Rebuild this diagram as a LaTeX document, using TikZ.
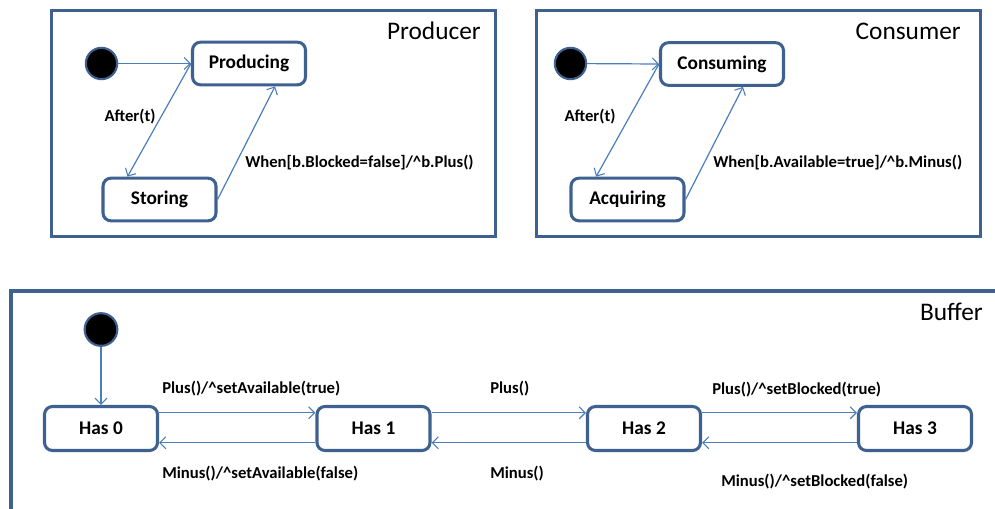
\documentclass[tikz,border=0pt]{standalone}
\usepackage{fontspec}
\setmainfont{Carlito}
\usetikzlibrary{arrows.meta}

\definecolor{framec}{HTML}{3F6190}
\definecolor{linkc}{HTML}{4A7EBB}

\tikzset{
  frame/.style={draw=framec, line width=2.4pt},
  state/.style={draw=framec, line width=2.3pt, rounded corners=6pt, fill=white,
    minimum width=84.75pt, minimum height=32pt, inner sep=0pt,
    font=\fontsize{14.5}{16}\selectfont\bfseries},
  initial/.style={circle, fill=black, draw=framec, line width=1.6pt,
    minimum size=23.5pt, inner sep=0pt},
  conn/.style={draw=linkc, line width=0.9pt,
    -{Straight Barb[length=4.5pt, width=9pt, line width=0.8pt]}},
  lbl/.style={inner sep=0pt, font=\fontsize{12.5}{14}\selectfont\bfseries},
  title/.style={inner sep=0pt, anchor=east, font=\fontsize{19}{22}\selectfont},
}

\begin{document}
\begin{tikzpicture}[x=0.75pt, y=-0.75pt]
  \useasboundingbox (0,0) rectangle (995,508);

  % ---------- Producer ----------
  \draw[frame] (51.5,10.5) rectangle (495.5,236.5);
  \node[title] (ptitle) at (481,31) {Producer};
  \node[initial] (pinit) at (101.5,63.5) {};
  \node[state] (prod) at (249,63.5) {Producing};
  \node[state] (stor) at (159.5,199.5) {Storing};
  \draw[conn] (pinit) -- (prod.west);
  \draw[conn] (prod.west) -- ([xshift=19.5pt]stor.north west);
  \draw[conn] (stor.east) -- ([xshift=-24pt]prod.south east);
  \node[lbl] (pafter) at (130,117) {After(t)};
  \node[lbl, anchor=west] (pwhen) at (245,163) {When[b.Blocked=false]/\textasciicircum b.Plus()};

  % ---------- Consumer ----------
  \draw[frame] (536.5,10.5) rectangle (980.5,236.5);
  \node[title] (ctitle) at (961,31) {Consumer};
  \node[initial] (cinit) at (570.5,63.5) {};
  \node[state, minimum width=92.25pt] (cons) at (722,64) {Consuming};
  \node[state] (acq) at (627.5,199.5) {Acquiring};
  \draw[conn] (cinit) -- (cons.west);
  \draw[conn] (cons.west) -- ([xshift=20pt]acq.north west);
  \draw[conn] (acq.east) -- ([xshift=-31.5pt]cons.south east);
  \node[lbl] (cafter) at (590,117) {After(t)};
  \node[lbl, anchor=west] (cwhen) at (713,163) {When[b.Available=true]/\textasciicircum b.Minus()};

  % ---------- Buffer (open to the right and bottom) ----------
  \draw[frame] (11,510) -- (11,291) -- (997,291);
  \node[title] (btitle) at (983,312) {Buffer};
  \node[initial, minimum size=24.5pt] (binit) at (101,329.5) {};
  \node[state, minimum height=33pt] (h0) at (101,428.5) {Has 0};
  \node[state, minimum height=33pt] (h1) at (373.5,428.5) {Has 1};
  \node[state, minimum height=33pt] (h2) at (644,428.5) {Has 2};
  \node[state, minimum height=33pt] (h3) at (915,428.5) {Has 3};

  \draw[conn] (binit) -- (h0);
  \draw[conn] ([yshift=11.8pt]h0.east) -- ([yshift=11.8pt]h1.west);
  \draw[conn] ([yshift=11.8pt]h1.east) -- ([yshift=11.8pt]h2.west);
  \draw[conn] ([yshift=11.8pt]h2.east) -- ([yshift=11.8pt]h3.west);
  \draw[conn] ([yshift=-10.7pt]h1.west) -- ([yshift=-10.7pt]h0.east);
  \draw[conn] ([yshift=-10.7pt]h2.west) -- ([yshift=-10.7pt]h1.east);
  \draw[conn] ([yshift=-10.7pt]h3.west) -- ([yshift=-10.7pt]h2.east);

  \node[lbl, anchor=west] (l01) at (162,389) {Plus()/\textasciicircum setAvailable(true)};
  \node[lbl, anchor=west] (l10) at (162,474) {Minus()/\textasciicircum setAvailable(false)};
  \node[lbl, anchor=west] (l12) at (490,389) {Plus()};
  \node[lbl, anchor=west] (l21) at (490,474) {Minus()};
  \node[lbl, anchor=west] (l23) at (712,390) {Plus()/\textasciicircum setBlocked(true)};
  \node[lbl, anchor=west] (l32) at (721,482) {Minus()/\textasciicircum setBlocked(false)};
\end{tikzpicture}
\end{document}
